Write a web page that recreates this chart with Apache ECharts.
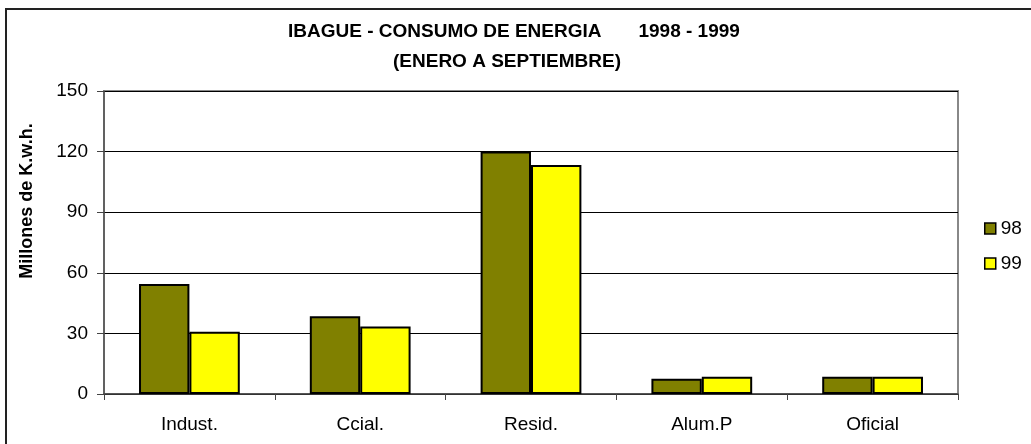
<!DOCTYPE html>
<html>
<head>
<meta charset="utf-8">
<script src="https://cdn.jsdelivr.net/npm/echarts@6/dist/echarts.min.js"></script>
<style>
html,body{margin:0;padding:0;background:#fff;}
#chart{width:1031px;height:444px;}
</style>
</head>
<body>
<div id="chart"></div>
<script>
const categories = ['Indust.', 'Ccial.', 'Resid.', 'Alum.P', 'Oficial'];
const seriesNames = ['98', '99'];
const values98 = [54.5, 38.5, 120, 7.5, 8.6];
const values99 = [30.8, 33.4, 113.4, 8.6, 8.6];
const yTicks = { min: 0, max: 150, interval: 30 };
const titleLine1 = 'IBAGUE - CONSUMO DE ENERGIA       1998 - 1999';
const titleLine2 = '(ENERO A SEPTIEMBRE)';
const yName = 'Millones de K.w.h.';

const font = 'Liberation Sans, Arial, sans-serif';
const chart = echarts.init(document.getElementById('chart'));
chart.setOption({
  animation: false,
  backgroundColor: '#fff',
  graphic: [{
    type: 'rect', z: 100, silent: true,
    shape: { x: 6, y: 9, width: 1200, height: 600 },
    style: { fill: 'none', stroke: '#222', lineWidth: 2 }
  }, {
    type: 'text', silent: true, x: 27, y: 201, rotation: Math.PI / 2,
    style: { text: yName, fontFamily: font, fontSize: 18, fontWeight: 'bold', fill: '#000', align: 'center', verticalAlign: 'middle' }
  }],
  title: [{
    text: titleLine1, left: 283, top: 17,
    textStyle: { fontFamily: font, fontSize: 19, fontWeight: 'bold', color: '#000' }
  }, {
    text: titleLine2, left: 388, top: 47,
    textStyle: { fontFamily: font, fontSize: 19, fontWeight: 'bold', color: '#000' }
  }],
  grid: { left: 104, right: 73, top: 91, bottom: 50, show: true, borderColor: '#888', borderWidth: 2, backgroundColor: 'transparent' },
  legend: {
    orient: 'vertical', left: 979, top: 214, icon: 'rect',
    itemWidth: 11, itemHeight: 11, itemGap: 16,
    itemStyle: { borderColor: '#000', borderWidth: 1.5 },
    textStyle: { fontFamily: font, fontSize: 19, color: '#000' },
    data: seriesNames
  },
  xAxis: {
    type: 'category', data: categories,
    axisLine: { lineStyle: { color: '#444', width: 1.5 } },
    axisTick: { show: true, length: 6, lineStyle: { color: '#444' } },
    axisLabel: { fontFamily: font, fontSize: 19, color: '#000', margin: 21 }
  },
  yAxis: {
    type: 'value', min: yTicks.min, max: yTicks.max, interval: yTicks.interval,
    axisLine: { show: true, lineStyle: { color: '#555', width: 1.5 } },
    axisTick: { show: true, length: 7, lineStyle: { color: '#444' } },
    axisLabel: { fontFamily: font, fontSize: 19, color: '#000', margin: 16 },
    splitLine: { lineStyle: { color: '#000', width: 1 } }
  },
  series: [{
    name: seriesNames[0], type: 'bar', data: values98,
    barGap: '0%', barCategoryGap: '41%',
    itemStyle: { color: '#808000', borderColor: '#000', borderWidth: 2 }
  }, {
    name: seriesNames[1], type: 'bar', data: values99,
    barGap: '0%', barCategoryGap: '41%',
    itemStyle: { color: '#ffff00', borderColor: '#000', borderWidth: 2 }
  }]
});
</script>
</body>
</html>
